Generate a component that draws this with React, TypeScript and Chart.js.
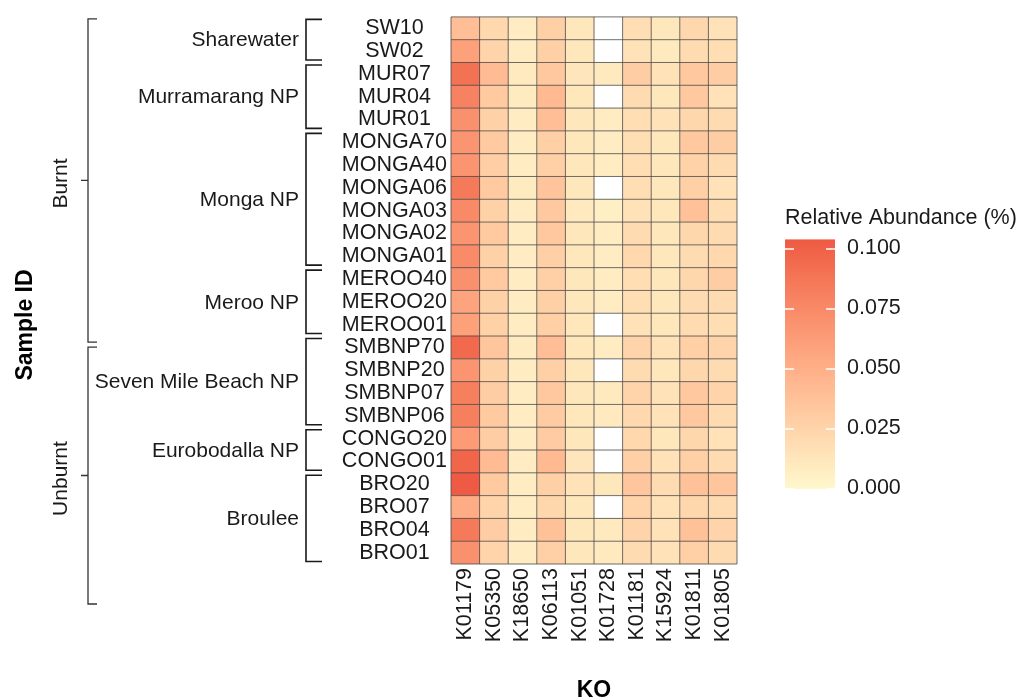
import React, { useEffect, useRef } from "react";
import { Chart, registerables } from "chart.js";

Chart.register(...registerables);

// ---------- data ----------
const SAMPLES = [
  "SW10", "SW02", "MUR07", "MUR04", "MUR01", "MONGA70", "MONGA40", "MONGA06",
  "MONGA03", "MONGA02", "MONGA01", "MEROO40", "MEROO20", "MEROO01", "SMBNP70",
  "SMBNP20", "SMBNP07", "SMBNP06", "CONGO20", "CONGO01", "BRO20", "BRO07", "BRO04", "BRO01",
];
const KOS = ["K01179", "K05350", "K18650", "K06113", "K01051", "K01728", "K01181", "K15924", "K01811", "K01805"];

const SITES = ["Sharewater", "Murramarang NP", "Monga NP", "Meroo NP", "Seven Mile Beach NP", "Eurobodalla NP", "Broulee"];
const SITE_SIZES = [2, 3, 6, 3, 4, 2, 4];
const FIRE = ["Burnt", "Unburnt"];
const FIRE_SIZES = [14, 10];

const K01179 = [0.040, 0.060, 0.090, 0.080, 0.070, 0.068, 0.068, 0.085, 0.075, 0.068, 0.074, 0.070, 0.058, 0.060, 0.095, 0.068, 0.082, 0.082, 0.064, 0.098, 0.104, 0.052, 0.085, 0.070];
const K05350 = [0.022, 0.025, 0.042, 0.032, 0.027, 0.032, 0.029, 0.032, 0.027, 0.032, 0.027, 0.032, 0.027, 0.027, 0.035, 0.027, 0.030, 0.032, 0.030, 0.042, 0.032, 0.025, 0.030, 0.025];
const K18650 = [0.008, 0.008, 0.010, 0.009, 0.008, 0.008, 0.008, 0.009, 0.008, 0.008, 0.008, 0.008, 0.008, 0.008, 0.009, 0.008, 0.008, 0.008, 0.008, 0.008, 0.008, 0.008, 0.008, 0.008];
const K06113 = [0.028, 0.028, 0.033, 0.043, 0.040, 0.028, 0.028, 0.036, 0.033, 0.033, 0.028, 0.028, 0.028, 0.028, 0.040, 0.028, 0.033, 0.031, 0.031, 0.043, 0.028, 0.023, 0.038, 0.028];
const K01051 = [0.012, 0.012, 0.013, 0.012, 0.012, 0.012, 0.012, 0.012, 0.010, 0.012, 0.012, 0.012, 0.012, 0.012, 0.012, 0.012, 0.012, 0.012, 0.012, 0.013, 0.015, 0.012, 0.012, 0.012];
const K01728 = [null, null, 0.010, null, 0.008, 0.008, 0.008, null, 0.006, 0.008, 0.008, 0.008, 0.008, null, 0.008, null, 0.010, 0.010, null, null, 0.012, null, 0.010, 0.010];
const K01181 = [0.018, 0.015, 0.030, 0.020, 0.018, 0.018, 0.018, 0.018, 0.015, 0.020, 0.022, 0.018, 0.018, 0.015, 0.025, 0.020, 0.025, 0.022, 0.022, 0.028, 0.035, 0.025, 0.025, 0.020];
const K15924 = [0.012, 0.010, 0.015, 0.012, 0.015, 0.012, 0.012, 0.012, 0.012, 0.012, 0.012, 0.012, 0.012, 0.012, 0.015, 0.012, 0.015, 0.015, 0.012, 0.015, 0.020, 0.015, 0.015, 0.015];
const K01811 = [0.023, 0.020, 0.033, 0.033, 0.023, 0.033, 0.026, 0.028, 0.038, 0.023, 0.020, 0.023, 0.020, 0.020, 0.028, 0.023, 0.033, 0.033, 0.023, 0.028, 0.038, 0.023, 0.038, 0.028];
const K01805 = [0.015, 0.018, 0.030, 0.015, 0.020, 0.030, 0.020, 0.015, 0.018, 0.020, 0.022, 0.030, 0.020, 0.018, 0.025, 0.020, 0.025, 0.020, 0.015, 0.020, 0.035, 0.020, 0.025, 0.020];

const VALUES: (number | null)[][] = [K01179, K05350, K18650, K06113, K01051, K01728, K01181, K15924, K01811, K01805];

const LEGEND_TITLE = "Relative Abundance (%)";
const LEGEND_TICKS = [0, 0.025, 0.05, 0.075, 0.1];
const LEGEND_LABELS = ["0.000", "0.025", "0.050", "0.075", "0.100"];
const DOMAIN_MIN = 0;
const DOMAIN_MAX = 0.104;
const LOW_COLOR = "#FFF8CD";
const HIGH_COLOR = "#EE5A43";
const NA_COLOR = "#FFFFFF";

// ---------- colour scale (Lab interpolation) ----------
function hexToRgb(h: string): number[] {
  const v = parseInt(h.slice(1), 16);
  return [(v >> 16) & 255, (v >> 8) & 255, v & 255];
}
function toLin(c: number) {
  c /= 255;
  return c <= 0.04045 ? c / 12.92 : Math.pow((c + 0.055) / 1.055, 2.4);
}
function fromLin(c: number) {
  const v = c <= 0.0031308 ? 12.92 * c : 1.055 * Math.pow(c, 1 / 2.4) - 0.055;
  return Math.max(0, Math.min(255, Math.round(v * 255)));
}
function rgbToLab(rgb: number[]) {
  const [r, g, b] = rgb.map(toLin);
  const x = (0.4124 * r + 0.3576 * g + 0.1805 * b) / 0.95047;
  const y = 0.2126 * r + 0.7152 * g + 0.0722 * b;
  const z = (0.0193 * r + 0.1192 * g + 0.9505 * b) / 1.08883;
  const f = (t: number) => (t > 0.008856 ? Math.cbrt(t) : 7.787 * t + 16 / 116);
  const fx = f(x), fy = f(y), fz = f(z);
  return [116 * fy - 16, 500 * (fx - fy), 200 * (fy - fz)];
}
function labToRgb(lab: number[]) {
  const [L, A, B] = lab;
  const fy = (L + 16) / 116;
  const fx = fy + A / 500;
  const fz = fy - B / 200;
  const inv = (t: number) => (t * t * t > 0.008856 ? t * t * t : (t - 16 / 116) / 7.787);
  const x = inv(fx) * 0.95047, y = inv(fy), z = inv(fz) * 1.08883;
  const r = 3.2406 * x - 1.5372 * y - 0.4986 * z;
  const g = -0.9689 * x + 1.8758 * y + 0.0415 * z;
  const b = 0.0557 * x - 0.204 * y + 1.057 * z;
  return [fromLin(r), fromLin(g), fromLin(b)];
}
const LOW_LAB = rgbToLab(hexToRgb(LOW_COLOR));
const HIGH_LAB = rgbToLab(hexToRgb(HIGH_COLOR));
function colorFor(v: number | null): string {
  if (v === null || v === undefined) return NA_COLOR;
  const t = Math.max(0, Math.min(1, (v - DOMAIN_MIN) / (DOMAIN_MAX - DOMAIN_MIN)));
  const lab = LOW_LAB.map((c, i) => c + (HIGH_LAB[i] - c) * t);
  const [r, g, b] = labToRgb(lab);
  return `rgb(${r},${g},${b})`;
}

const FONT = "'Liberation Sans', Arial, Helvetica, sans-serif";
const TEXT = "#1a1a1a";

const decorPlugin = {
  id: "decor",
  afterDatasetsDraw(chart: any) {
    const { ctx, chartArea } = chart;
    const xs = chart.scales.x;
    const { top, bottom, left, right } = chartArea;
    const rowH = (bottom - top) / SAMPLES.length;
    ctx.save();
    ctx.strokeStyle = "#4a4a4a";
    ctx.lineWidth = 0.8;
    ctx.beginPath();
    for (let i = 0; i <= SAMPLES.length; i++) {
      const y = top + i * rowH;
      ctx.moveTo(left, y);
      ctx.lineTo(right, y);
    }
    for (let j = 0; j <= KOS.length; j++) {
      const x = xs.getPixelForValue(j);
      ctx.moveTo(x, top);
      ctx.lineTo(x, bottom);
    }
    ctx.stroke();
    ctx.restore();
  },
  afterDraw(chart: any) {
    const { ctx, chartArea } = chart;
    const { top, bottom, left, right } = chartArea;
    const rowH = (bottom - top) / SAMPLES.length;
    ctx.save();

    // site brackets
    ctx.strokeStyle = "#1a1a1a";
    ctx.lineWidth = 1.6;
    ctx.fillStyle = TEXT;
    ctx.font = `21px ${FONT}`;
    ctx.textAlign = "right";
    ctx.textBaseline = "middle";
    let s = 0;
    SITES.forEach((name, k) => {
      const n = SITE_SIZES[k];
      const y1 = top + s * rowH + 2.5;
      const y2 = top + (s + n) * rowH - 2.5;
      ctx.beginPath();
      ctx.moveTo(322, y1);
      ctx.lineTo(306, y1);
      ctx.lineTo(306, y2);
      ctx.lineTo(322, y2);
      ctx.stroke();
      ctx.fillText(name, 299, (y1 + y2) / 2 + 1);
      s += n;
    });

    // fire brackets
    ctx.strokeStyle = "#333333";
    ctx.lineWidth = 1.3;
    const burntTop = top + 2;
    const burntBot = top + FIRE_SIZES[0] * rowH + 6;
    const unTop = top + FIRE_SIZES[0] * rowH + 11;
    const unBot = bottom + 40;
    const spans = [[burntTop, burntBot], [unTop, unBot]];
    ctx.font = `21px ${FONT}`;
    ctx.textAlign = "center";
    ctx.textBaseline = "middle";
    FIRE.forEach((name, k) => {
      const [a, b] = spans[k];
      const mid = (a + b) / 2;
      ctx.beginPath();
      ctx.moveTo(97, a);
      ctx.lineTo(88, a);
      ctx.lineTo(88, b);
      ctx.lineTo(97, b);
      ctx.moveTo(88, mid);
      ctx.lineTo(81, mid);
      ctx.stroke();
      ctx.save();
      ctx.translate(61, mid + 3);
      ctx.rotate(-Math.PI / 2);
      ctx.fillText(name, 0, 0);
      ctx.restore();
    });

    // axis titles
    ctx.font = `bold 23px ${FONT}`;
    ctx.fillStyle = "#000";
    ctx.save();
    ctx.translate(26, 325);
    ctx.rotate(-Math.PI / 2);
    ctx.fillText("Sample ID", 0, 0);
    ctx.restore();
    ctx.fillText("KO", (left + right) / 2, 691);

    // legend
    const lx = 785, lw = 50;
    const pix = (v: number) => 489 - (v / 0.1) * 240;
    const barTop = pix(DOMAIN_MAX);
    const barBot = pix(DOMAIN_MIN);
    for (let y = Math.floor(barTop); y < Math.ceil(barBot); y++) {
      const v = 0.1 * (489 - (y + 0.5)) / 240;
      ctx.fillStyle = colorFor(Math.max(DOMAIN_MIN, Math.min(DOMAIN_MAX, v)));
      const y0 = Math.max(y, barTop);
      ctx.fillRect(lx, y0, lw, Math.min(y + 1, barBot) - y0);
    }
    ctx.strokeStyle = "#ffffff";
    ctx.lineWidth = 1.5;
    ctx.beginPath();
    LEGEND_TICKS.forEach((t) => {
      const y = pix(t);
      ctx.moveTo(lx, y);
      ctx.lineTo(lx + 9, y);
      ctx.moveTo(lx + lw - 9, y);
      ctx.lineTo(lx + lw, y);
    });
    ctx.stroke();
    ctx.fillStyle = TEXT;
    ctx.font = `21.5px ${FONT}`;
    ctx.textAlign = "left";
    ctx.textBaseline = "middle";
    LEGEND_TICKS.forEach((t, i) => {
      ctx.fillText(LEGEND_LABELS[i], 847, pix(t) - 1);
    });
    ctx.font = `21.5px ${FONT}`;
    ctx.fillText(LEGEND_TITLE, lx, 218);

    ctx.restore();
  },
};

export default function App() {
  const ref = useRef<HTMLCanvasElement | null>(null);
  useEffect(() => {
    if (!ref.current) return;
    const datasets = KOS.map((ko, j) => ({
      label: ko,
      data: SAMPLES.map(() => [j, j + 1]),
      backgroundColor: VALUES[j].map((v) => colorFor(v)),
      borderWidth: 0,
      barPercentage: 1,
      categoryPercentage: 1,
      grouped: false,
    }));
    const chart = new Chart(ref.current, {
      type: "bar",
      data: { labels: SAMPLES, datasets: datasets as any },
      options: {
        animation: false,
        responsive: false,
        devicePixelRatio: 1,
        indexAxis: "y",
        events: [],
        layout: { padding: { top: 15, right: 297, bottom: 0, left: 0 } },
        plugins: { legend: { display: false }, tooltip: { enabled: false } },
        scales: {
          x: {
            type: "linear",
            position: "bottom",
            min: 0,
            max: KOS.length,
            grid: { display: false, drawTicks: false },
            border: { display: false },
            afterBuildTicks: (scale: any) => {
              scale.ticks = KOS.map((_, i) => ({ value: i + 0.5 }));
            },
            afterFit: (scale: any) => {
              scale.height = 136;
            },
            ticks: {
              autoSkip: false,
              minRotation: 90,
              maxRotation: 90,
              padding: 4,
              color: TEXT,
              font: { family: FONT, size: 21.5 },
              callback: (_v: any, i: number) => KOS[i],
            },
          },
          y: {
            type: "category",
            position: "left",
            grid: { display: false, drawTicks: false },
            border: { display: false },
            afterFit: (scale: any) => {
              scale.width = 451;
            },
            ticks: {
              autoSkip: false,
              crossAlign: "center",
              padding: 4,
              color: TEXT,
              font: { family: FONT, size: 21.5 },
            },
          },
        },
      } as any,
      plugins: [decorPlugin],
    });
    return () => chart.destroy();
  }, []);
  return (
    <div style={{ position: "fixed", left: 0, top: 0, width: 1034, height: 700, background: "#fff" }}>
      <canvas ref={ref} width={1034} height={700} style={{ width: 1034, height: 700, display: "block" }} />
    </div>
  );
}
